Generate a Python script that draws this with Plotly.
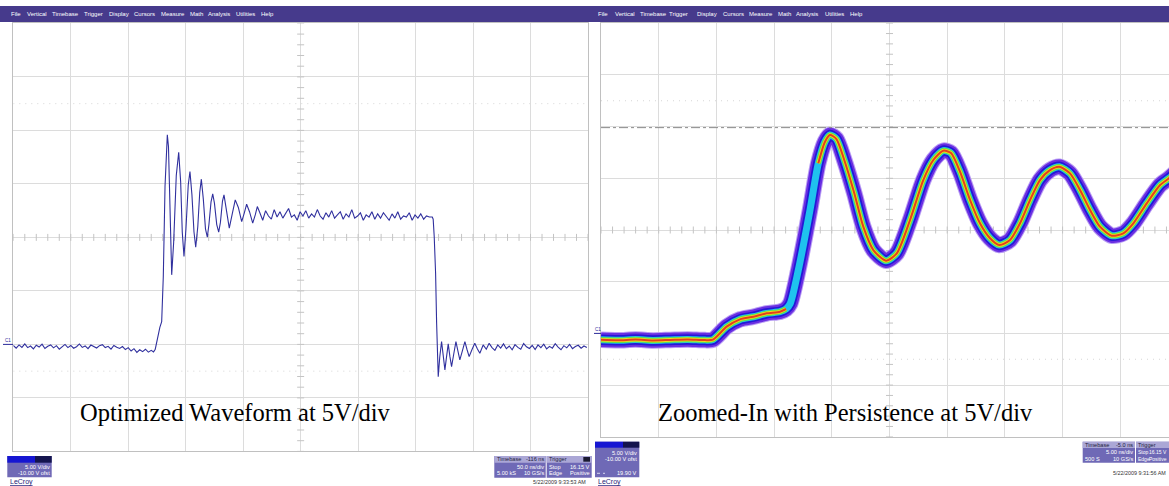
import numpy as np
import plotly.graph_objects as go

W, H = 1169, 486

# ---------------- DATA ----------------
# Left scope: "Optimized Waveform", 50 ns/div, 5 V/div, -10 V offset (time in ns, volts)
left_base_t0, left_base_dt = -134.0, 2.5
left_base_v = [-0.10, -0.35, -0.05, -0.28, 0.05, -0.30, -0.15, -0.42, -0.08, -0.25,
               0.02, -0.38, -0.18, -0.05, -0.32, -0.12, -0.45, -0.20, 0.00, -0.30,
               -0.10, -0.36, -0.22, 0.04, -0.28, -0.14, -0.40, -0.06, -0.24, -0.34,
               -0.12, -0.02, -0.30, -0.18, -0.44, -0.10, -0.26, -0.38, -0.20, -0.48,
               -0.30, -0.62, -0.40, -0.75, -0.50, -0.68, -0.45, -0.72, -0.55]
left_edge_t = [-12.0, -10.5, -9.0, -7.8, -6.5, -4.9, -3.5, -2.0, -0.8, 0.0,
               1.0, 2.2, 3.8, 5.5, 7.8, 9.9, 11.6, 13.0, 14.5, 16.2,
               18.2, 19.7, 21.4, 23.2, 24.7, 26.5, 28.2, 29.6, 31.3, 33.2,
               34.8, 36.2, 38.0, 39.5, 41.0, 43.0, 44.7, 46.2, 48.0, 49.3,
               51.5, 53.9, 56.5, 59.1, 61.8, 64.7, 67.0, 69.0, 71.5, 74.3,
               76.5, 78.3]
left_edge_v = [-0.70, -0.45, 0.40, 1.05, 1.60, 2.13, 6.34, 14.75, 18.80, 19.58,
               18.50, 12.50, 6.50, 9.50, 15.80, 17.96, 15.20, 10.50, 8.21, 10.80,
               14.90, 16.15, 14.00, 10.50, 9.08, 11.00, 14.20, 15.44, 13.60, 10.80,
               10.02, 11.20, 13.30, 14.07, 13.20, 11.20, 10.49, 11.40, 13.40, 13.97,
               12.60, 10.86, 12.20, 13.51, 12.80, 11.48, 12.30, 13.10, 12.40, 11.33,
               12.10, 12.88]
left_plat_t0, left_plat_dt = 80.5, 2.5
left_plat_v = [12.3, 11.6, 12.5, 12.0, 11.7, 12.6, 11.9, 12.4, 11.8, 12.2,
               12.7, 11.9, 12.1, 11.6, 12.4, 12.0, 12.5, 11.8, 12.2, 11.9,
               12.6, 12.0, 11.7, 12.3, 11.9, 12.5, 11.8, 12.1, 12.4, 11.7,
               12.2, 11.9, 12.6, 11.8, 12.0, 12.3, 11.6, 12.1, 11.9, 12.4,
               11.7, 12.2, 11.8, 12.3, 11.9, 11.6, 12.2, 11.8, 12.4, 11.7,
               12.0, 11.9, 12.3, 11.6, 12.1, 11.8, 12.2, 11.7, 12.0, 11.9]
left_fall_t = [230.5, 231.3, 232.2, 233.4, 234.3, 235.7, 237.0, 238.6, 240.0, 241.5,
               243.0, 244.4, 245.8, 247.3, 249.2, 251.1, 252.8, 254.5, 256.7, 258.9,
               260.8, 262.6, 265.0, 267.5, 269.7, 271.9, 274.8]
left_fall_v = [11.9, 11.70, 10.08, 6.68, 2.01, -3.01, -1.20, 0.26, -1.00, -2.38,
               -1.10, 0.05, -1.10, -2.07, -0.90, 0.26, -0.60, -1.45, -0.60, 0.26,
               -0.50, -1.14, -0.50, 0.11, -0.40, -0.82, -0.05]
left_tail_t0, left_tail_dt = 277.5, 2.5
left_tail_v = [-0.45, 0.10, -0.30, -0.55, -0.05, -0.35, 0.05, -0.40, -0.15, -0.50,
               -0.02, -0.28, -0.45, 0.08, -0.22, -0.38, -0.10, -0.48, -0.05, -0.30,
               0.02, -0.42, -0.18, -0.35, 0.06, -0.25, -0.50, -0.12, -0.32, 0.00,
               -0.40, -0.20, -0.08, -0.36, -0.15, -0.28]

# Right scope: "Zoomed-In with Persistence", 5 ns/div, 5 V/div, -10 V offset
right_t = [-20.0, -18.5, -17.0, -15.5, -14.0, -12.5, -11.0, -10.3, -9.11, -7.95,
           -6.80, -5.64, -4.49, -3.97, -3.60, -2.90, -1.89, -1.17, -0.59, -0.16,
           0.40, 1.08, 1.95, 2.73, 3.60, 4.70, 5.63, 6.78, 7.93, 8.80,
           9.66, 10.33, 11.11, 11.98, 12.84, 13.71, 14.52, 15.44, 16.31, 17.18,
           18.04, 18.91, 19.72, 20.64, 21.51, 22.38, 23.24, 24.26, 25.26, 26.13,
           27.29, 28.45, 29.22, 30.0]
right_v = [-0.62, -0.66, -0.60, -0.68, -0.63, -0.58, -0.65, -0.60, 0.65, 1.36,
           1.61, 1.94, 2.10, 2.36, 2.90, 6.13, 11.93, 16.45, 18.54, 19.19,
           18.80, 16.77, 13.55, 10.32, 8.06, 7.03, 7.75, 10.97, 14.83, 16.77,
           17.67, 17.44, 15.64, 12.90, 10.65, 9.20, 8.55, 9.03, 10.65, 12.90,
           14.83, 15.80, 16.12, 15.48, 13.87, 11.93, 10.32, 9.45, 9.68, 10.65,
           12.58, 14.35, 15.00, 15.80]

trigger_level = 16.15      # V
cursor_level = 19.90       # V
ground_level = 0.0         # V
captions = ["Optimized Waveform at 5V/div", "Zoomed-In with Persistence at 5V/div"]
menu_words = ["File", "Vertical", "Timebase", "Trigger", "Display", "Cursors",
              "Measure", "Math", "Analysis", "Utilities", "Help"]

# ---------------- BUILD ----------------
def seg(t0, dt, vals):
    return list(t0 + dt * np.arange(len(vals)))

lt = (seg(left_base_t0, left_base_dt, left_base_v) + left_edge_t +
      seg(left_plat_t0, left_plat_dt, left_plat_v) + left_fall_t +
      seg(left_tail_t0, left_tail_dt, left_tail_v))
lv = left_base_v + left_edge_v + left_plat_v + left_fall_v + left_tail_v

L_XR = [-134, 366]
R_XR = [-20, 29.22]
YR = [-10, 30]
TICKC = "#c4c4c4"

def P(x):
    return x / W

def Q(y):
    return 1 - y / H

fig = go.Figure()

def ticks(xs, ys, xr, yr, sym):
    fig.add_trace(go.Scatter(x=xs, y=ys, mode="markers", xaxis=xr, yaxis=yr,
                             marker=dict(symbol=sym, size=5, color=TICKC,
                                         line=dict(color=TICKC, width=1)),
                             hoverinfo="skip"))

tick_t = [L_XR[0] + 10 * k for k in range(51)]
tick_v = [YR[0] + 1 * k for k in range(41)]
rtick_t = [R_XR[0] + 1 * k for k in range(50)]
ticks(tick_t, [10] * len(tick_t), "x", "y", "line-ns-open")
ticks([116] * len(tick_v), tick_v, "x", "y", "line-ew-open")
ticks(rtick_t, [10] * len(rtick_t), "x2", "y2", "line-ns-open")
ticks([5] * len(tick_v), tick_v, "x2", "y2", "line-ew-open")

# left waveform
fig.add_trace(go.Scatter(x=lt, y=lv, mode="lines", xaxis="x", yaxis="y",
                         line=dict(color="#30309e", width=1.1), hoverinfo="skip"))

# right persistence band
rt = np.array(right_t)
rv = np.array(right_v)
slope = np.diff(rv) / np.diff(rt)
fast = np.append(slope > 4.5, False)
hot_v = [None if f else v for f, v in zip(fast, right_v)]
layers = [("#b89cf4", 16.5, False), ("#6a2ee2", 14.5, False), ("#2319d6", 10.5, False),
          ("#1fc2ee", 7.0, False), ("#5ce24c", 5.5, True), ("#f2da1e", 3.6, True),
          ("#e4401c", 2.0, True)]
for col, wd, hot in layers:
    fig.add_trace(go.Scatter(x=right_t, y=hot_v if hot else right_v, mode="lines",
                             xaxis="x2", yaxis="y2",
                             line=dict(color=col, width=wd, shape="spline", smoothing=0.7),
                             connectgaps=False, hoverinfo="skip"))

# markers: trigger level, trigger position
fig.add_trace(go.Scatter(x=[369.3], y=[trigger_level], mode="markers", xaxis="x", yaxis="y",
                         marker=dict(symbol="triangle-left", size=5, color="#2a2ac8"),
                         cliponaxis=False, hoverinfo="skip"))
fig.add_trace(go.Scatter(x=[0], y=[-10.4], mode="markers", xaxis="x", yaxis="y",
                         marker=dict(symbol="triangle-up", size=5, color="#2a2ac8"),
                         cliponaxis=False, hoverinfo="skip"))
fig.add_trace(go.Scatter(x=[0], y=[-10.3], mode="markers", xaxis="x2", yaxis="y2",
                         marker=dict(symbol="triangle-up", size=5, color="#2a2ac8"),
                         cliponaxis=False, hoverinfo="skip"))

ax_common = dict(showticklabels=False, ticks="", zeroline=False, showgrid=True,
                 gridcolor="#dcdcdc", gridwidth=1, showline=True, linecolor="#c0c0c0",
                 linewidth=1, fixedrange=True)

fig.update_layout(
    width=W, height=H, margin=dict(l=0, r=0, t=0, b=0),
    paper_bgcolor="white", plot_bgcolor="white", showlegend=False,
    xaxis=dict(ax_common, range=L_XR, tick0=L_XR[0], dtick=50, mirror=True,
               domain=[P(13.3), P(588)], anchor="y"),
    yaxis=dict(ax_common, range=YR, tick0=-10, dtick=5, mirror=True,
               domain=[Q(451.4), Q(23.4)], anchor="x"),
    xaxis2=dict(ax_common, range=R_XR, tick0=-20, dtick=5, mirror=True,
                domain=[P(601), 1.0], anchor="y2"),
    yaxis2=dict(ax_common, range=YR, tick0=-10, dtick=5, mirror=False,
                domain=[Q(436.8), Q(23.2)], anchor="x2"),
)

shapes = []
ann = []

# dotted rows at +/-2.5 div and cursor
for xr, yr, rng in (("x", "y", L_XR), ("x2", "y2", R_XR)):
    for lvl in (22.5, -2.5):
        shapes.append(dict(type="line", xref=xr, yref=yr, x0=rng[0], x1=rng[1], y0=lvl, y1=lvl,
                           line=dict(color="#d6d6d6", width=1, dash="1px,5px"), layer="below"))
shapes.append(dict(type="line", xref="x2", yref="y2", x0=R_XR[0], x1=R_XR[1],
                   y0=cursor_level, y1=cursor_level,
                   line=dict(color="#8a8a8a", width=1, dash="dashdot")))

def rect(x0, y0, x1, y1, fill):
    shapes.append(dict(type="rect", xref="paper", yref="paper", x0=P(x0), x1=P(x1),
                       y0=Q(y1), y1=Q(y0), fillcolor=fill, line=dict(width=0), layer="above"))

def txt(x, y, s, size=5.6, color="white", anchor="left", family="Liberation Sans"):
    ann.append(dict(x=P(x), y=Q(y), xref="paper", yref="paper", text=s, showarrow=False,
                    xanchor=anchor, yanchor="middle", borderpad=0,
                    font=dict(size=size, color=color, family=family)))

# menu bar
rect(0, 6, W, 22, "#463a8c")
left_menu_x = [10, 26, 50.7, 82.7, 107.7, 132.7, 160, 189, 207.3, 235, 260.3]
right_menu_x = [596.7, 614.3, 639.3, 667.7, 696, 721.7, 748.3, 777.3, 795.3, 824, 849.3]
for wd, x in zip(menu_words, left_menu_x):
    txt(x, 14, wd, size=6, color="white")
for wd, x in zip(menu_words, right_menu_x):
    txt(x, 14, wd, size=6, color="white")

# ground markers
for xr, yr, xp0, xp1, ypx in (("x", "y", 3, 13, 340.5), ("x2", "y2", 594, 601, 329.5)):
    txt((xp0 + xp1) / 2, ypx, "C1", size=4.5, color="#2a2a9a", anchor="center")
    shapes.append(dict(type="line", xref="paper", yref=yr, x0=P(xp0), x1=P(xp1),
                       y0=ground_level, y1=ground_level, line=dict(color="#2a2a9a", width=1)))

# captions
txt(235.5, 412, captions[0], size=24.5, color="black", anchor="center", family="Liberation Serif")
txt(845.5, 412, captions[1], size=24.5, color="black", anchor="center", family="Liberation Serif")

BODY = "#6f69b6"
HEAD = "#aba7d6"

# ---- left descriptor boxes ----
rect(7.3, 456, 51.7, 477.3, BODY)
rect(7.3, 456, 35, 462.7, "#1616d2")
rect(35, 456, 51.7, 462.7, "#14144e")
txt(50.5, 466.7, "5.00 V/div", anchor="right")
txt(50.5, 472.7, "-10.00 V ofst", anchor="right")
txt(9, 481.5, "<u>LeCroy</u>", size=7, color="#1c1c78")

rect(494.3, 456, 545.7, 477.7, BODY)
rect(494.3, 456, 545.7, 462.7, HEAD)
txt(495.5, 459.4, "Timebase", color="#1e1e40")
txt(545, 459.4, "-116 ns", color="#1e1e40", anchor="right")
txt(545, 466.7, "50.0 ns/div", anchor="right")
txt(495.5, 472.7, "5.00 kS")
txt(545, 472.7, "10 GS/s", anchor="right")

rect(546.7, 456, 591.7, 477.7, BODY)
rect(546.7, 456, 591.7, 462.7, HEAD)
rect(583.3, 457, 590, 461.7, "#1a1a30")
txt(547.7, 459.4, "Trigger", color="#1e1e40")
txt(547.7, 466.7, "Stop")
txt(590.7, 466.7, "16.15 V", anchor="right")
txt(547.7, 472.7, "Edge")
txt(590.7, 472.7, "Positive", anchor="right")
txt(559, 481.5, "5/22/2009 9:33:53 AM", size=5.4, color="#333333", anchor="center")

# ---- right descriptor boxes ----
rect(595, 441.7, 639.3, 477.3, BODY)
rect(595, 441.7, 623, 447.7, "#1616d2")
rect(623, 441.7, 639.3, 447.7, "#14144e")
txt(638.3, 452.7, "5.00 V/div", anchor="right")
txt(638.3, 459, "-10.00 V ofst", anchor="right")
txt(638.3, 473.3, "19.90 V", anchor="right")
shapes.append(dict(type="line", xref="paper", yref="paper", x0=P(597), x1=P(605),
                   y0=Q(473.3), y1=Q(473.3), line=dict(color="#d8d6f0", width=1, dash="dot")))
txt(597, 481.5, "<u>LeCroy</u>", size=7, color="#1c1c78")

rect(1082.7, 441.7, 1135, 462.7, BODY)
rect(1082.7, 441.7, 1135, 448, HEAD)
txt(1084, 444.8, "Timebase", color="#1e1e40")
txt(1134.3, 444.8, "-5.0 ns", color="#1e1e40", anchor="right")
txt(1134.3, 452.3, "5.00 ns/div", anchor="right")
txt(1084, 459, "500 S")
txt(1134.3, 459, "10 GS/s", anchor="right")

rect(1136, 441.7, 1169, 462.7, BODY)
rect(1136, 441.7, 1169, 448, HEAD)
txt(1137, 444.8, "Trigger", color="#1e1e40")
txt(1137, 452.3, "Stop", size=5)
txt(1167.5, 452.3, "16.15 V", size=5, anchor="right")
txt(1137, 459, "Edge", size=5)
txt(1167.5, 459, "Positive", size=5, anchor="right")
txt(1167, 473, "5/22/2009 9:31:56 AM", size=5.4, color="#333333", anchor="right")

fig.update_layout(shapes=shapes, annotations=ann)
fig.write_html("out.html", config={"displayModeBar": False},
               post_script="document.body.style.margin='0px';document.body.style.overflow='hidden';")
